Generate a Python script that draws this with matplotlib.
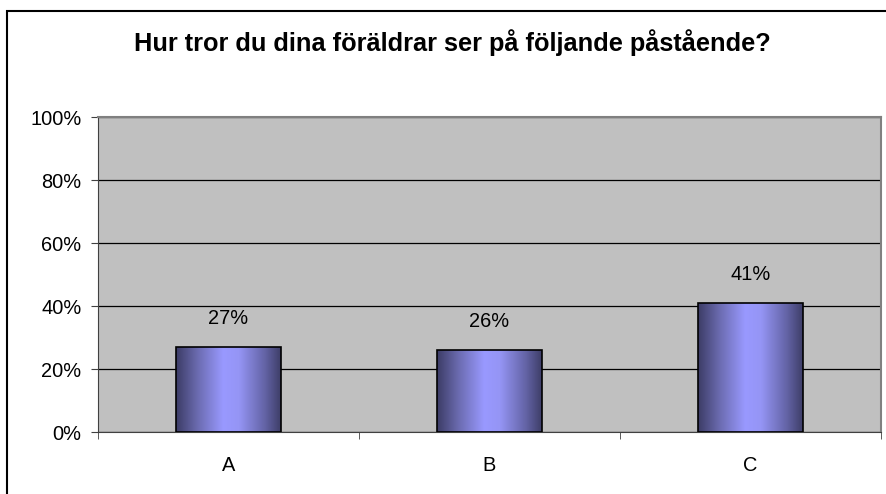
import numpy as np
import matplotlib.pyplot as plt
from matplotlib.colors import LinearSegmentedColormap
from matplotlib.patches import Rectangle
from matplotlib.ticker import FixedLocator, PercentFormatter

# data
categories = ['A', 'B', 'C']
shares = [27, 26, 41]
title = 'Hur tror du dina föräldrar ser på följande påstående?'

plt.rcParams['font.family'] = ['Liberation Sans', 'DejaVu Sans']

fig = plt.figure(figsize=(8.86, 4.94), dpi=100)
W, H = 886, 494

# outer chart frame, cut off at the right and bottom
fig.patches.append(Rectangle((6.5 / W, -0.1), 1.2, 1 - 11.5 / H + 0.1,
                             transform=fig.transFigure, fill=False,
                             edgecolor='black', linewidth=1.5))

ax = fig.add_axes([98 / W, (H - 432) / H, 783 / W, 315 / H])
ax.set_facecolor('#c0c0c0')

# gridlines
ax.set_yticks(np.arange(0, 101, 20))
ax.yaxis.set_major_formatter(PercentFormatter(decimals=0))
ax.grid(axis='y', color='black', linewidth=0.9)
ax.set_axisbelow(True)

# gradient bars
cmap = LinearSegmentedColormap.from_list('bar', [
    (0.0, '#3c3c66'), (0.2, '#6a6aae'), (0.45, '#9999ff'),
    (0.6, '#9595f5'), (0.85, '#6363a5'), (1.0, '#3e3e68')])
grad = np.linspace(0, 1, 256).reshape(1, -1)
bars = ax.bar(range(len(categories)), shares, width=0.4,
              facecolor='none', edgecolor='black', linewidth=1.2, zorder=3)
for b, v in zip(bars, shares):
    x0 = b.get_x()
    im = ax.imshow(grad, cmap=cmap, aspect='auto', zorder=2,
                   extent=(x0, x0 + b.get_width(), 0, v), interpolation='bicubic')
    im.set_clip_path(b)
    ax.text(b.get_x() + b.get_width() / 2, v + 6, f'{v}%', ha='center',
            va='bottom', fontsize=14.4)
ax.set_xlim(-0.5, len(categories) - 0.5)
ax.set_ylim(0, 100)

# axes styling
for s in ['top', 'right']:
    ax.spines[s].set_color('#808080')
    ax.spines[s].set_linewidth(1.5)
ax.spines['left'].set_color('#404040')
ax.spines['bottom'].set_color('#404040')
ax.tick_params(axis='y', direction='out', length=5, color='#404040',
               labelsize=14.4, pad=7)
ax.set_xticks(range(len(categories)))
ax.set_xticklabels(categories)
ax.tick_params(axis='x', which='major', length=0, labelsize=14.4, pad=17)
ax.xaxis.set_minor_locator(FixedLocator(np.arange(-0.5, len(categories), 1)))
ax.tick_params(axis='x', which='minor', length=5, color='#404040')

fig.text(452 / W, 1 - 43 / H, title, ha='center', va='center',
         fontsize=18.3, fontweight='bold')

fig.savefig('out.png', dpi=100)
